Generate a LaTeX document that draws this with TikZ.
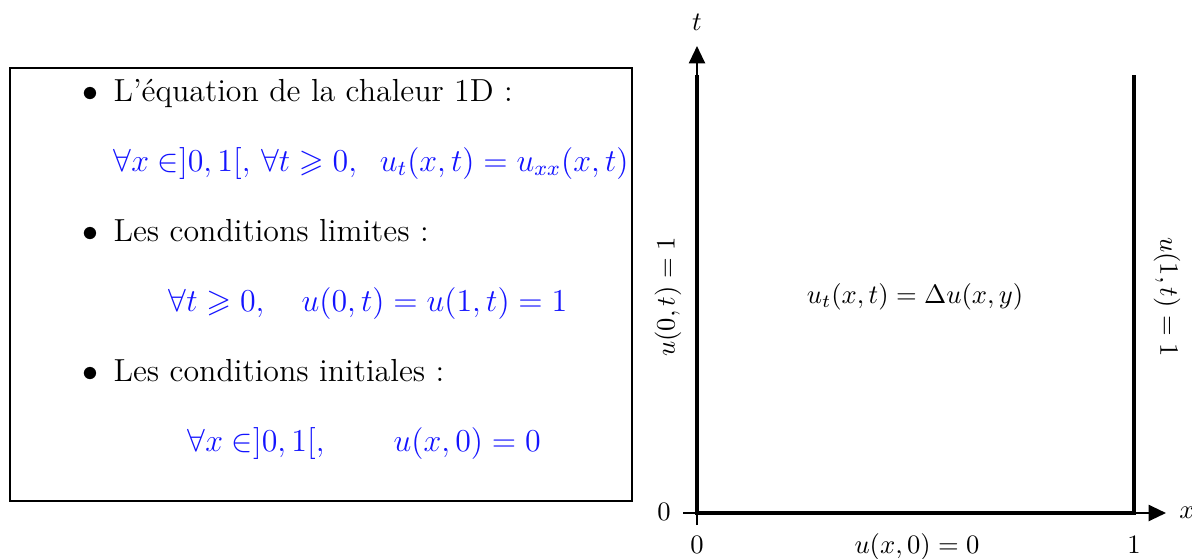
\documentclass[tikz,border=0pt]{standalone}
\usepackage{amssymb}
\usepackage{fontspec}
\usetikzlibrary{arrows.meta}
\definecolor{eqblue}{RGB}{20,20,255}
\begin{document}
\begin{tikzpicture}[x=0.376pt,y=-0.376pt,
  boxtext/.style={inner sep=0pt, anchor=base west, font=\fontsize{12}{14}\selectfont},
  bluetext/.style={boxtext, text=eqblue},
  bulletmark/.style={inner sep=0pt, anchor=base, font=\fontsize{12}{14}\selectfont},
  lbl/.style={inner sep=0pt, font=\normalsize},
  axisline/.style={line width=0.8pt, -{Triangle[length=6.5pt,width=6pt]}},
  bound/.style={line width=1.6pt}]
\useasboundingbox (0,0) rectangle (1192,558);
% left box
\draw[line width=0.4pt] (10,68) rectangle (632,501);
\node[bulletmark] (b1) at (90,101) {$\bullet$};
\node[boxtext] (l1) at (113,101) {L'équation de la chaleur 1D :};
\node[bluetext] (e1) at (113,171) {$\forall x \in ]0,1[,\,\forall t \geqslant 0,\;\; u_t(x,t) = u_{xx}(x,t)$};
\node[bulletmark] (b2) at (90,241) {$\bullet$};
\node[boxtext] (l2) at (113,241) {Les conditions limites :};
\node[bluetext] (e2) at (168,311) {$\forall t \geqslant 0, \quad u(0,t) = u(1,t) = 1$};
\node[bulletmark] (b3) at (90,381) {$\bullet$};
\node[boxtext] (l3) at (113,381) {Les conditions initiales :};
\node[bluetext] (e3) at (187,451) {$\forall x \in ]0,1[, \qquad u(x,0) = 0$};
% diagram
\coordinate (O) at (697,513);
\coordinate (A) at (697,75);
\coordinate (B) at (1134,75);
\coordinate (C) at (1134,513);
\coordinate (xs) at (683,513);
\coordinate (xe) at (1166,513);
\coordinate (ts) at (697,525);
\coordinate (te) at (697,46);
\draw[axisline] (xs) -- (xe);
\draw[axisline] (ts) -- (te);
\draw[bound] (A) -- (O) -- (C) -- (B);
\node[lbl, anchor=base] (tl) at (697,30) {$t$};
\node[lbl, anchor=base] (xl) at (1187,518) {$x$};
\node[lbl, anchor=base] (z0) at (664,520) {$0$};
\node[lbl, anchor=base] (zx) at (697,553) {$0$};
\node[lbl, anchor=base] (one) at (1134,553) {$1$};
\node[lbl, anchor=base] (bc0) at (917,553) {$u(x,0)=0$};
\node[lbl, rotate=90] (bcl) at (668,297) {$u(0,t)=1$};
\node[lbl, rotate=-90] (bcr) at (1167,297) {$u(1,t)=1$};
\node[lbl] (pde) at (915,297) {$u_t(x,t)=\Delta u(x,y)$};
\end{tikzpicture}
\end{document}
